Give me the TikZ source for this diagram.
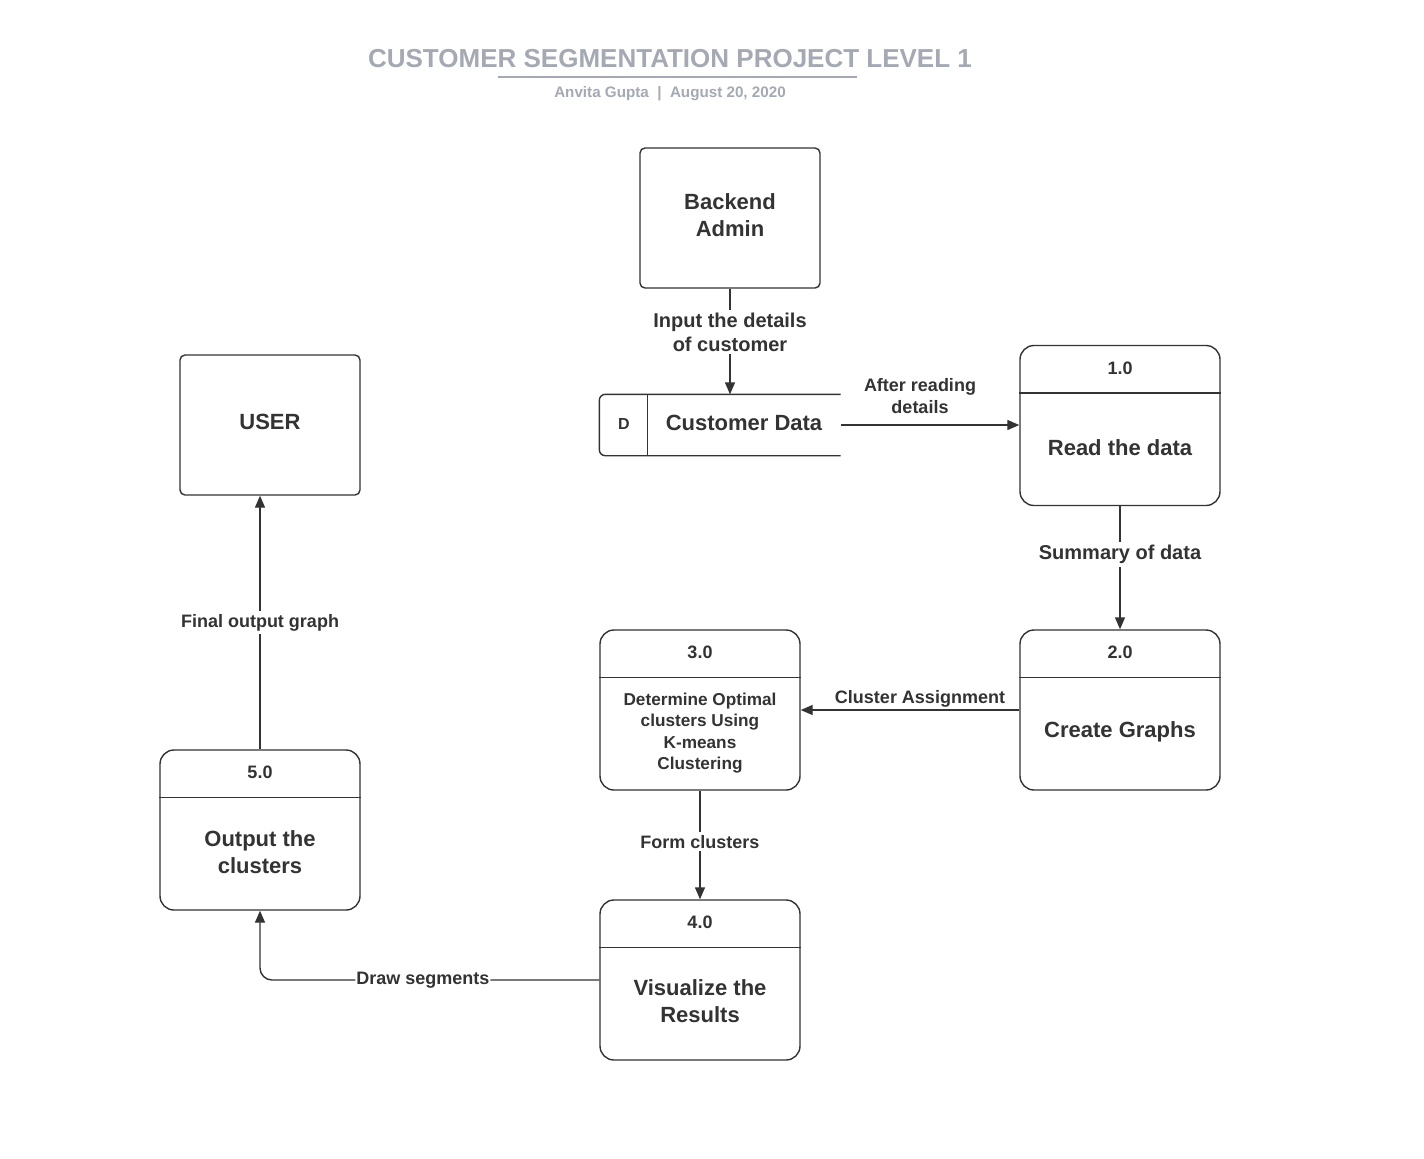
\documentclass[tikz,border=0pt]{standalone}
\usepackage{fontspec}
\setmainfont{Liberation Sans}
\usetikzlibrary{arrows.meta,positioning}

\definecolor{ink}{HTML}{333333}
\definecolor{titlegray}{HTML}{A4A9B3}

\begin{document}
\begin{tikzpicture}[x=0.5pt,y=-0.5pt,>={Triangle[length=6pt,width=5pt]},line width=0.7pt,draw=ink,text=ink,
    proc/.style={draw,rounded corners=7pt,minimum width=100pt,minimum height=80pt,inner sep=0pt},
    ent/.style={draw,rounded corners=2.5pt,minimum width=90pt,minimum height=70pt,align=center,font=\fontsize{11}{13.5}\selectfont\bfseries},
    num/.style={font=\fontsize{9}{11}\selectfont\bfseries},
    body/.style={align=center,font=\fontsize{11}{13.5}\selectfont\bfseries},
    flow/.style={fill=white,inner sep=1.5pt,align=center,font=\fontsize{9}{11}\selectfont\bfseries}]
  \useasboundingbox (0,0) rectangle (1424,1158);
  \fill[white] (0,0) rectangle (1424,1158);

  % heading
  \node[text=titlegray,font=\fontsize{13}{15}\selectfont\bfseries] (title) at (670,59) {CUSTOMER SEGMENTATION PROJECT LEVEL 1};
  \draw[titlegray,line width=1pt] (498,77) -- (857,77);
  \node[text=titlegray,font=\fontsize{7.6}{9}\selectfont\bfseries] (sub) at (670,94) {Anvita Gupta~~|~~August 20, 2020};

  % external entities
  \node[ent] (admin) at (730,218) {};
  \node[body] (admint) at (730,215) {Backend\\Admin};
  \node[ent] (user) at (270,425) {};
  \node[body] (usert) at (270,422) {USER};

  % data store
  \node[minimum width=120pt,minimum height=30pt] (ds) at (720,425) {};
  \draw[rounded corners=3pt] (ds.north east) -- (ds.north west) -- (ds.south west) -- (ds.south east);
  \draw ([xshift=24pt]ds.north west) -- ([xshift=24pt]ds.south west);
  \node[font=\fontsize{8}{10}\selectfont\bfseries] (dsid) at (624,424) {D};
  \node[body] (dsname) at (744,423) {Customer Data};

  % processes
  \node[proc] (p1) at (1120,425.5) {};
  \node[proc] (p2) at (1120,710) {};
  \node[proc] (p3) at (700,710) {};
  \node[proc] (p4) at (700,980) {};
  \node[proc] (p5) at (260,830) {};
  \foreach \p/\n in {p1/1.0,p2/2.0,p3/3.0,p4/4.0,p5/5.0} {
    \draw ([yshift=-24pt]\p.north west) -- ([yshift=-24pt]\p.north east);
    \node[num] at ([yshift=-11.5pt]\p.north) {\n};
  }
  \node[body] (p1t) at ([yshift=-11pt]p1.center) {Read the data};
  \node[body] (p2t) at ([yshift=-11pt]p2.center) {Create Graphs};
  \node[body,font=\fontsize{8.6}{10.8}\selectfont\bfseries] (p3t) at ([yshift=-11.5pt]p3.center) {Determine Optimal\\clusters Using\\K-means\\Clustering};
  \node[body] (p4t) at ([yshift=-10.5pt]p4.center) {Visualize the\\Results};
  \node[body] (p5t) at ([yshift=-11pt]p5.center) {Output the\\clusters};

  % flows
  \draw[->] (admin.south) -- node[flow,pos=0.41,font=\fontsize{10}{12}\selectfont\bfseries] {Input the details\\ of customer} (admin.south |- ds.north);
  \draw[->] (ds.east) -- node[above=5.5pt,xshift=-5pt,align=center,num,inner sep=0pt] {After reading\\details} (ds.east -| p1.west);
  \draw[->] (p1.south) -- node[flow,pos=0.39,font=\fontsize{10}{12}\selectfont\bfseries] {Summary of data} (p2.north);
  \draw[->] (p2.west) -- node[above=1pt,num,inner sep=0pt,xshift=5pt] {Cluster Assignment} (p3.east);
  \draw[->] (p3.south) -- node[flow,pos=0.47] {Form clusters} (p4.north);
  \draw[->,rounded corners=6pt] (p4.west) -| node[flow,pos=0.26,inner sep=0.5pt] {Draw segments} (p5.south);
  \draw[->] (p5.north) -- node[flow] {Final output graph} (p5.north |- user.south);
\end{tikzpicture}
\end{document}
